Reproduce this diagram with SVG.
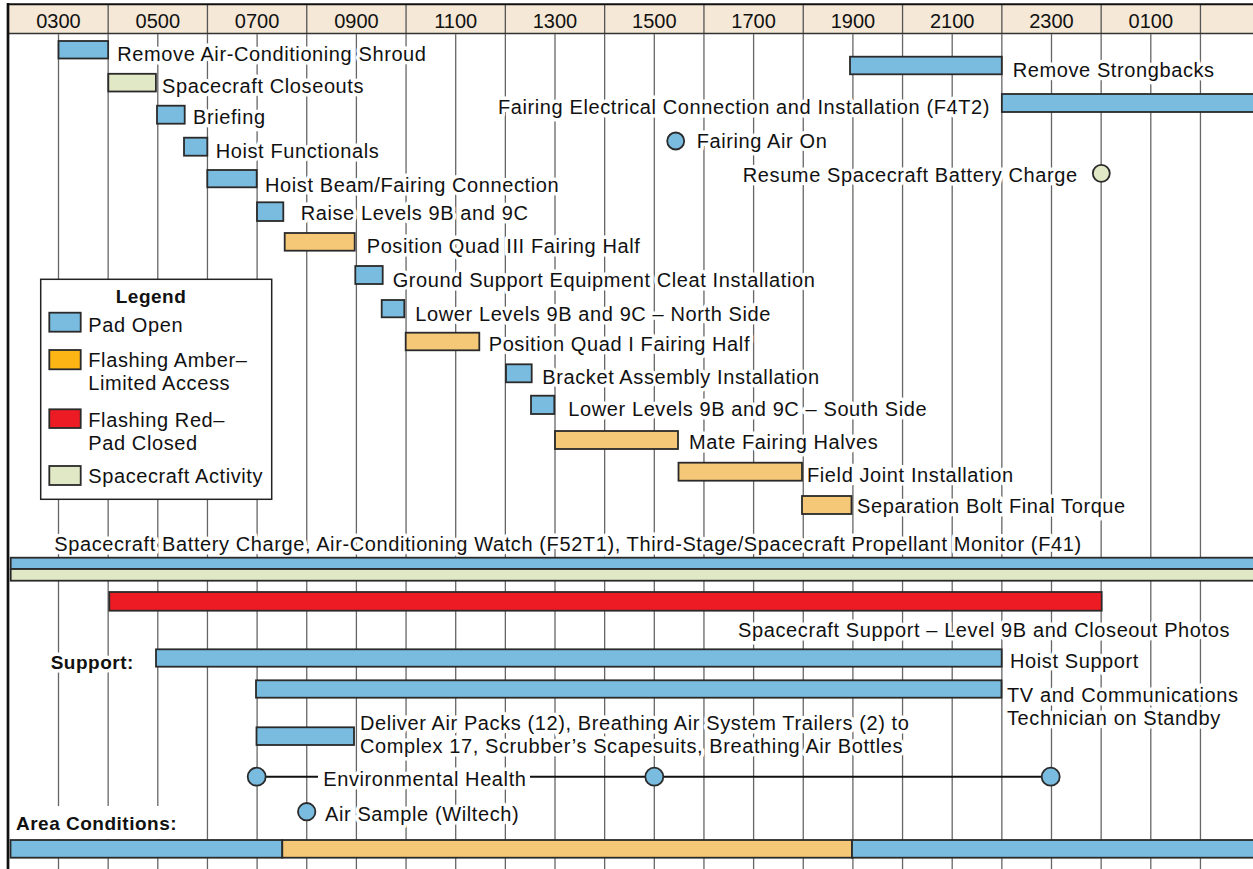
<svg xmlns="http://www.w3.org/2000/svg" width="1253" height="869" viewBox="0 0 1253 869">
<style>
text{font-family:"Liberation Sans",Arial,Helvetica,sans-serif;font-size:20px;fill:#111;letter-spacing:0.6px;stroke:#fff;stroke-width:7px;stroke-linejoin:round;paint-order:stroke}
.hd{letter-spacing:0;stroke:none;text-anchor:middle}
.b{font-weight:bold;font-size:19px;letter-spacing:0.5px}
.end{text-anchor:end}
.grid line{stroke:#666;stroke-width:1.3}
.hdiv line{stroke:#555;stroke-width:1.3}
rect.bar,circle.bar{stroke:#2a2a2a;stroke-width:1.8}
.blue{fill:#7abcdf}
.amb{fill:#f5c878}
.ambL{fill:#fdb515}
.red{fill:#ed1c24}
.grn{fill:#e1e8c5}
</style>
<rect x="0" y="0" width="1253" height="869" fill="#fff"/>
<!-- header -->
<g id="header">
<rect x="9" y="4" width="1250" height="29.5" fill="#f5e8d6"/>
<g class="hdiv">
<line x1="108.15" y1="5" x2="108.15" y2="33"/><line x1="207.45" y1="5" x2="207.45" y2="33"/><line x1="306.75" y1="5" x2="306.75" y2="33"/><line x1="406.05" y1="5" x2="406.05" y2="33"/><line x1="505.35" y1="5" x2="505.35" y2="33"/><line x1="604.65" y1="5" x2="604.65" y2="33"/><line x1="703.95" y1="5" x2="703.95" y2="33"/><line x1="803.25" y1="5" x2="803.25" y2="33"/><line x1="902.55" y1="5" x2="902.55" y2="33"/><line x1="1001.85" y1="5" x2="1001.85" y2="33"/><line x1="1101.15" y1="5" x2="1101.15" y2="33"/><line x1="1200.45" y1="5" x2="1200.45" y2="33"/>
</g>
<text class="hd" x="58.5" y="27.7">0300</text><text class="hd" x="157.8" y="27.7">0500</text><text class="hd" x="257.1" y="27.7">0700</text><text class="hd" x="356.4" y="27.7">0900</text><text class="hd" x="455.7" y="27.7">1100</text><text class="hd" x="555" y="27.7">1300</text><text class="hd" x="654.3" y="27.7">1500</text><text class="hd" x="753.6" y="27.7">1700</text><text class="hd" x="852.9" y="27.7">1900</text><text class="hd" x="952.2" y="27.7">2100</text><text class="hd" x="1051.5" y="27.7">2300</text><text class="hd" x="1150.8" y="27.7">0100</text>
<line x1="7" y1="4.2" x2="1253" y2="4.2" stroke="#111" stroke-width="2"/>
<line x1="9" y1="33.5" x2="1253" y2="33.5" stroke="#333" stroke-width="1.5"/>
</g>
<!-- grid -->
<g class="grid">
<line x1="58.5" y1="34" x2="58.5" y2="869"/><line x1="108.15" y1="34" x2="108.15" y2="869"/><line x1="157.8" y1="34" x2="157.8" y2="869"/><line x1="207.45" y1="34" x2="207.45" y2="869"/><line x1="257.1" y1="34" x2="257.1" y2="869"/><line x1="306.75" y1="34" x2="306.75" y2="869"/><line x1="356.4" y1="34" x2="356.4" y2="869"/><line x1="406.05" y1="34" x2="406.05" y2="869"/><line x1="455.7" y1="34" x2="455.7" y2="869"/><line x1="505.35" y1="34" x2="505.35" y2="869"/><line x1="555" y1="34" x2="555" y2="869"/><line x1="604.65" y1="34" x2="604.65" y2="869"/><line x1="654.3" y1="34" x2="654.3" y2="869"/><line x1="703.95" y1="34" x2="703.95" y2="869"/><line x1="753.6" y1="34" x2="753.6" y2="869"/><line x1="803.25" y1="34" x2="803.25" y2="869"/><line x1="852.9" y1="34" x2="852.9" y2="869"/><line x1="902.55" y1="34" x2="902.55" y2="869"/><line x1="952.2" y1="34" x2="952.2" y2="869"/><line x1="1001.85" y1="34" x2="1001.85" y2="869"/><line x1="1051.5" y1="34" x2="1051.5" y2="869"/><line x1="1101.15" y1="34" x2="1101.15" y2="869"/><line x1="1150.8" y1="34" x2="1150.8" y2="869"/><line x1="1200.45" y1="34" x2="1200.45" y2="869"/>
</g>
<line x1="8" y1="3" x2="8" y2="869" stroke="#111" stroke-width="2.7"/>
<rect x="10" y="806" width="180" height="33" fill="#fff"/>

<!-- connectors -->
<g id="connectors" stroke="#111" stroke-width="2">
<line x1="256.7" y1="776.7" x2="318" y2="776.7"/>
<line x1="530" y1="776.7" x2="1050.7" y2="776.7"/>
</g>

<!-- tasks -->
<g id="t01"><text x="117.3" y="60.7">Remove Air-Conditioning Shroud</text><rect class="bar blue" x="58.5" y="41" width="49.65" height="17.5"/></g>
<g id="t02"><text x="162" y="92.7">Spacecraft Closeouts</text><rect class="bar grn" x="108.3" y="73.8" width="47.6" height="17.7"/></g>
<g id="t03"><text x="193" y="124.3">Briefing</text><rect class="bar blue" x="157" y="105.7" width="27.7" height="18"/></g>
<g id="t04"><text x="215.7" y="157.7">Hoist Functionals</text><rect class="bar blue" x="184" y="137.7" width="23.3" height="18"/></g>
<g id="t05"><text x="265" y="191.7">Hoist Beam/Fairing Connection</text><rect class="bar blue" x="207.3" y="170" width="49.4" height="17.3"/></g>
<g id="t06"><text x="300.7" y="220">Raise Levels 9B and 9C</text><rect class="bar blue" x="257" y="202.3" width="26.3" height="18.7"/></g>
<g id="t07"><text x="366.7" y="252.7">Position Quad III Fairing Half</text><rect class="bar amb" x="284.7" y="233" width="70" height="17.7"/></g>
<g id="t08"><text x="392.7" y="287.3">Ground Support Equipment Cleat Installation</text><rect class="bar blue" x="355.3" y="266" width="27.4" height="18"/></g>
<g id="t09"><text x="415.3" y="320.7">Lower Levels 9B and 9C – North Side</text><rect class="bar blue" x="381.7" y="300" width="22.6" height="17.3"/></g>
<g id="t10"><text x="488.7" y="351">Position Quad I Fairing Half</text><rect class="bar amb" x="405.7" y="332.7" width="73.6" height="17.6"/></g>
<g id="t11"><text x="542.3" y="384.3">Bracket Assembly Installation</text><rect class="bar blue" x="506" y="364.3" width="25.7" height="18"/></g>
<g id="t12"><text x="568.3" y="416">Lower Levels 9B and 9C – South Side</text><rect class="bar blue" x="531" y="395.7" width="23.3" height="18.3"/></g>
<g id="t13"><text x="689" y="448.5">Mate Fairing Halves</text><rect class="bar amb" x="555" y="431" width="123" height="18"/></g>
<g id="t14"><text x="807" y="481.7">Field Joint Installation</text><rect class="bar amb" x="678.5" y="462.7" width="123.5" height="18"/></g>
<g id="t15"><text x="857" y="513.3">Separation Bolt Final Torque</text><rect class="bar amb" x="802" y="496" width="49.5" height="18"/></g>
<g id="t16"><text x="1012.7" y="76.7">Remove Strongbacks</text><rect class="bar blue" x="850" y="56.7" width="151.8" height="17.6"/></g>
<g id="t17"><text class="end" x="990" y="114">Fairing Electrical Connection and Installation (F4T2)</text><rect class="bar blue" x="1001.85" y="94" width="260" height="18"/></g>
<g id="t18"><text x="696.7" y="147.7">Fairing Air On</text><circle class="bar blue" cx="675.7" cy="141" r="8.5"/></g>
<g id="t19"><text class="end" x="1077.7" y="181.7">Resume Spacecraft Battery Charge</text><circle class="bar grn" cx="1101.3" cy="173.3" r="8.5"/></g>

<g id="legend">
<rect x="40.7" y="279.3" width="231" height="220" fill="#fff" stroke="#222" stroke-width="1.5"/>
<text class="b" x="151" y="302.7" text-anchor="middle">Legend</text>
<rect class="bar blue" x="49.3" y="312.7" width="31.4" height="19"/><text x="88.3" y="331.7">Pad Open</text>
<rect class="bar ambL" x="49.3" y="350" width="31.4" height="19.3"/><text x="88.3" y="367.3">Flashing Amber–</text><text x="88.3" y="390">Limited Access</text>
<rect class="bar red" x="49.3" y="409.3" width="31.4" height="18.7"/><text x="88.3" y="427.3">Flashing Red–</text><text x="88.3" y="450">Pad Closed</text>
<rect class="bar grn" x="49.3" y="466" width="31.4" height="19"/><text x="88.3" y="483.3">Spacecraft Activity</text>
</g>

<g id="t20"><text x="54.3" y="551">Spacecraft Battery Charge, Air-Conditioning Watch (F52T1), Third-Stage/Spacecraft Propellant Monitor (F41)</text>
<rect class="bar blue" x="10.7" y="557.7" width="1252" height="11.3"/><rect class="bar grn" x="10.7" y="569" width="1252" height="11.7"/></g>
<g id="t21"><rect class="bar red" x="109.3" y="592" width="992.4" height="18.7"/></g>
<g id="t22"><text class="end" x="1230" y="637.3">Spacecraft Support – Level 9B and Closeout Photos</text></g>
<g id="support-label"><text class="b" x="50.7" y="669.3">Support:</text></g>
<g id="t23"><text x="1010" y="667.7">Hoist Support</text><rect class="bar blue" x="156" y="649.3" width="845.7" height="17.4"/></g>
<g id="t24"><text x="1007" y="701.7">TV and Communications</text><text x="1007" y="724.5">Technician on Standby</text><rect class="bar blue" x="256" y="680.3" width="745.5" height="17.4"/></g>
<g id="t25"><text x="360" y="730">Deliver Air Packs (12), Breathing Air System Trailers (2) to</text><text x="360" y="753.3">Complex 17, Scrubber’s Scapesuits, Breathing Air Bottles</text><rect class="bar blue" x="256.5" y="727.3" width="97.5" height="17.7"/></g>
<g id="t26"><text x="323.3" y="785.7">Environmental Health</text><circle class="bar blue" cx="256.7" cy="776.7" r="9"/><circle class="bar blue" cx="654.3" cy="776.7" r="9"/><circle class="bar blue" cx="1050.7" cy="776.7" r="9"/></g>
<g id="t27"><text x="325" y="820.7">Air Sample (Wiltech)</text><circle class="bar blue" cx="306.7" cy="811.7" r="8.7"/></g>
<g id="area-label"><text class="b" x="16" y="830">Area Conditions:</text></g>
<g id="area"><rect class="bar blue" x="10.5" y="840" width="271.8" height="17.7"/><rect class="bar amb" x="282.3" y="840" width="569.7" height="17.7"/><rect class="bar blue" x="852" y="840" width="410" height="17.7"/></g>
</svg>
